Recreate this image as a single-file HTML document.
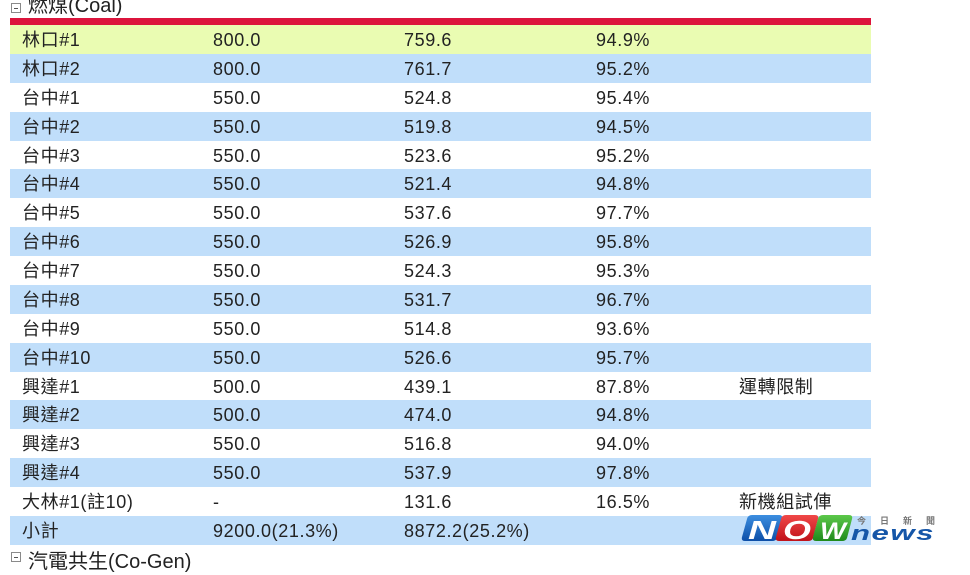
<!DOCTYPE html>
<html><head><meta charset="utf-8">
<style>
html,body{margin:0;padding:0;background:#fff;}
body{width:970px;height:558px;overflow:hidden;position:relative;font-family:"Liberation Sans","Noto Sans CJK TC",sans-serif;color:#222;}
.row{position:absolute;left:10px;width:861px;}
.y{background:#eafcb2;}
.b{background:#c0defa;}
.c{position:absolute;top:0;font-size:18px;letter-spacing:0.6px;white-space:nowrap;}
.c1{left:12px}.c2{left:203px}.c3{left:394px}.c4{left:586px}.c5{left:729px}
.red{position:absolute;left:10px;top:18px;width:861px;height:7px;background:#dc143c;}
.box{position:absolute;width:8px;height:8px;border:1px solid #8a8a8a;background:#fff;}
.box:after{content:"";position:absolute;left:2px;top:4px;width:4px;height:1px;background:#555;}
.hdr{position:absolute;left:28px;font-size:20px;white-space:nowrap;color:#222;}
</style></head><body>
<div class="box" style="left:11px;top:3px"></div>
<div class="hdr" style="top:-7px;line-height:26px">燃煤(Coal)</div>
<div class="red"></div>

<div class="row y" style="top:25px;height:29px;line-height:30px"><span class="c c1">林口#1</span><span class="c c2">800.0</span><span class="c c3">759.6</span><span class="c c4">94.9%</span></div>
<div class="row b" style="top:54px;height:29px;line-height:30px"><span class="c c1">林口#2</span><span class="c c2">800.0</span><span class="c c3">761.7</span><span class="c c4">95.2%</span></div>
<div class="row" style="top:83px;height:29px;line-height:30px"><span class="c c1">台中#1</span><span class="c c2">550.0</span><span class="c c3">524.8</span><span class="c c4">95.4%</span></div>
<div class="row b" style="top:112px;height:29px;line-height:30px"><span class="c c1">台中#2</span><span class="c c2">550.0</span><span class="c c3">519.8</span><span class="c c4">94.5%</span></div>
<div class="row" style="top:141px;height:28px;line-height:30px"><span class="c c1">台中#3</span><span class="c c2">550.0</span><span class="c c3">523.6</span><span class="c c4">95.2%</span></div>
<div class="row b" style="top:169px;height:29px;line-height:30px"><span class="c c1">台中#4</span><span class="c c2">550.0</span><span class="c c3">521.4</span><span class="c c4">94.8%</span></div>
<div class="row" style="top:198px;height:29px;line-height:30px"><span class="c c1">台中#5</span><span class="c c2">550.0</span><span class="c c3">537.6</span><span class="c c4">97.7%</span></div>
<div class="row b" style="top:227px;height:29px;line-height:30px"><span class="c c1">台中#6</span><span class="c c2">550.0</span><span class="c c3">526.9</span><span class="c c4">95.8%</span></div>
<div class="row" style="top:256px;height:29px;line-height:30px"><span class="c c1">台中#7</span><span class="c c2">550.0</span><span class="c c3">524.3</span><span class="c c4">95.3%</span></div>
<div class="row b" style="top:285px;height:29px;line-height:30px"><span class="c c1">台中#8</span><span class="c c2">550.0</span><span class="c c3">531.7</span><span class="c c4">96.7%</span></div>
<div class="row" style="top:314px;height:29px;line-height:30px"><span class="c c1">台中#9</span><span class="c c2">550.0</span><span class="c c3">514.8</span><span class="c c4">93.6%</span></div>
<div class="row b" style="top:343px;height:29px;line-height:30px"><span class="c c1">台中#10</span><span class="c c2">550.0</span><span class="c c3">526.6</span><span class="c c4">95.7%</span></div>
<div class="row" style="top:372px;height:28px;line-height:30px"><span class="c c1">興達#1</span><span class="c c2">500.0</span><span class="c c3">439.1</span><span class="c c4">87.8%</span><span class="c c5">運轉限制</span></div>
<div class="row b" style="top:400px;height:29px;line-height:30px"><span class="c c1">興達#2</span><span class="c c2">500.0</span><span class="c c3">474.0</span><span class="c c4">94.8%</span></div>
<div class="row" style="top:429px;height:29px;line-height:30px"><span class="c c1">興達#3</span><span class="c c2">550.0</span><span class="c c3">516.8</span><span class="c c4">94.0%</span></div>
<div class="row b" style="top:458px;height:29px;line-height:30px"><span class="c c1">興達#4</span><span class="c c2">550.0</span><span class="c c3">537.9</span><span class="c c4">97.8%</span></div>
<div class="row" style="top:487px;height:29px;line-height:30px"><span class="c c1">大林#1(註10)</span><span class="c c2">-</span><span class="c c3">131.6</span><span class="c c4">16.5%</span><span class="c c5">新機組試俥</span></div>
<div class="row b" style="top:516px;height:29px;line-height:30px"><span class="c c1">小計</span><span class="c c2">9200.0(21.3%)</span><span class="c c3">8872.2(25.2%)</span></div>

<div class="box" style="left:11px;top:552px"></div>
<div class="hdr" style="top:549px;line-height:26px">汽電共生(Co-Gen)</div>

<svg style="position:absolute;left:735px;top:510px" width="215" height="40" viewBox="0 0 215 40">
<defs>
<linearGradient id="gb" x1="0" y1="0" x2="0" y2="1"><stop offset="0" stop-color="#3c8ee0"/><stop offset="1" stop-color="#0d4fa8"/></linearGradient>
<linearGradient id="gr" x1="0" y1="0" x2="0" y2="1"><stop offset="0" stop-color="#f04848"/><stop offset="1" stop-color="#c0121a"/></linearGradient>
<linearGradient id="gg" x1="0" y1="0" x2="0" y2="1"><stop offset="0" stop-color="#5cc84a"/><stop offset="1" stop-color="#1f8a1c"/></linearGradient>
</defs>
<path d="M17 5 H44 Q48 5 47 9 L42 28 Q41 31 37 31 H10 Q6 31 7 27 L12 9 Q13 5 17 5Z" fill="url(#gb)"/>
<path d="M51 5 H80 Q84 5 83 9 L78 28 Q77 31 73 31 H44 Q40 31 41 27 L46 9 Q47 5 51 5Z" fill="url(#gr)"/>
<path d="M88 5 H114 Q118 5 117 9 L112 28 Q111 31 107 31 H81 Q77 31 78 27 L83 9 Q84 5 88 5Z" fill="url(#gg)"/>
<text x="13" y="29" font-family="Liberation Sans" font-weight="bold" font-style="italic" font-size="26" fill="#fff" textLength="28" lengthAdjust="spacingAndGlyphs">N</text>
<text x="48" y="29" font-family="Liberation Sans" font-weight="bold" font-style="italic" font-size="26" fill="#fff" textLength="28" lengthAdjust="spacingAndGlyphs">O</text>
<text x="85" y="29" font-family="Liberation Sans" font-weight="bold" font-style="italic" font-size="24" fill="#fff" textLength="26" lengthAdjust="spacingAndGlyphs">W</text>
<text x="116" y="30" font-family="Liberation Sans" font-weight="bold" font-style="italic" font-size="20" fill="#1556a8" letter-spacing="1" textLength="84" lengthAdjust="spacingAndGlyphs">news</text>
<text x="122" y="14" font-family="Liberation Sans,Noto Sans CJK TC,sans-serif" font-weight="bold" font-size="9" fill="#777" letter-spacing="14">今日新聞</text>
</svg>
</body></html>
